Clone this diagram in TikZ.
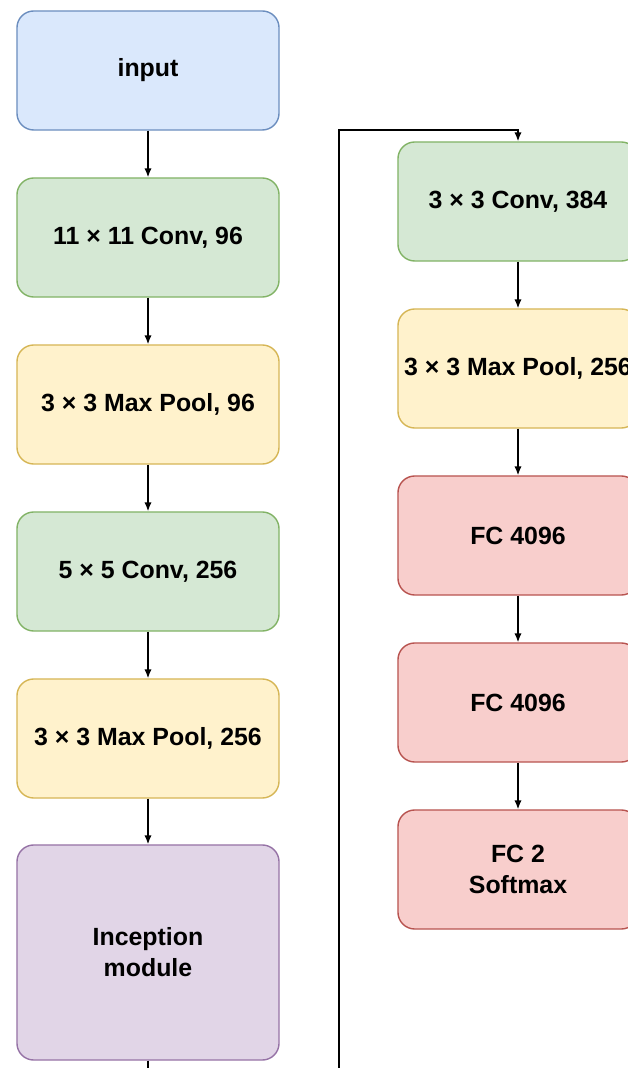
\documentclass[tikz,border=0pt]{standalone}
\usepackage{fontspec}
\setmainfont{Liberation Sans}
\usepackage{tikz}
\usetikzlibrary{arrows.meta,positioning}
\definecolor{bluebg}{HTML}{DAE8FC}
\definecolor{blueborder}{HTML}{6C8EBF}
\definecolor{greenbg}{HTML}{D5E8D4}
\definecolor{greenborder}{HTML}{82B366}
\definecolor{yellowbg}{HTML}{FFF2CC}
\definecolor{yellowborder}{HTML}{D6B656}
\definecolor{redbg}{HTML}{F8CECC}
\definecolor{redborder}{HTML}{B85450}
\definecolor{purplebg}{HTML}{E1D5E7}
\definecolor{purpleborder}{HTML}{9673A6}

\begin{document}
\begin{tikzpicture}[
  x=0.025cm, y=0.025cm,
  font=\fontsize{17.7}{22}\selectfont\bfseries,
  layer/.style={rounded corners=0.42cm,line width=1pt,align=center,
    minimum width=6.55cm,minimum height=2.975cm,inner sep=0pt},
  inbox/.style={layer,draw=blueborder,fill=bluebg},
  convbox/.style={layer,draw=greenborder,fill=greenbg},
  poolbox/.style={layer,draw=yellowborder,fill=yellowbg},
  fcbox/.style={layer,draw=redborder,fill=redbg},
  incbox/.style={layer,draw=purpleborder,fill=purplebg,minimum height=5.375cm},
  narrow/.style={minimum width=6cm},
  ar/.style={-{Latex[length=2.2mm,width=1.8mm]},line width=1pt,black}
]
\useasboundingbox (0,0) rectangle (628,1068);
\clip (0,0) rectangle (628,1068);
\fill[white] (0,0) rectangle (628,1068);

% ==================== left column ====================
\node[inbox] (input) at (148,997.5) {input};
\node[convbox] (conv11) at (148,830.5) {11 × 11 Conv, 96};
\node[poolbox] (pool96) at (148,663.5) {3 × 3 Max Pool, 96};
\node[convbox] (conv5) at (148,496.5) {5 × 5 Conv, 256};
\node[poolbox] (pool256) at (148,329.5) {3 × 3 Max Pool, 256};
\node[incbox] (incep) at (148,115.5) {Inception\\module};

\draw[ar] (input) -- (conv11);
\draw[ar] (conv11) -- (pool96);
\draw[ar] (pool96) -- (conv5);
\draw[ar] (conv5) -- (pool256);
\draw[ar] (pool256) -- (incep);

% ==================== right column ====================
\node[convbox, narrow] (conv3) at (518,866.5) {3 × 3 Conv, 384};
\node[poolbox, narrow] (pool3) at (518,699.5) {3 × 3 Max Pool, 256};
\node[fcbox, narrow] (fc1) at (518,532.5) {FC 4096};
\node[fcbox, narrow] (fc2) at (518,365.5) {FC 4096};
\node[fcbox, narrow] (fcout) at (518,198.5) {FC 2\\Softmax};

\draw[ar] (conv3) -- (pool3);
\draw[ar] (pool3) -- (fc1);
\draw[ar] (fc1) -- (fc2);
\draw[ar] (fc2) -- (fcout);

% loop from inception up to the second column
\coordinate (incdown) at (148,-30);
\coordinate (loopbot) at (339,-30);
\coordinate (looptop) at (339,938);
\draw[ar] (incep.south) -- (incdown) -- (loopbot) -- (looptop) -| (conv3.north);

\end{tikzpicture}
\end{document}
